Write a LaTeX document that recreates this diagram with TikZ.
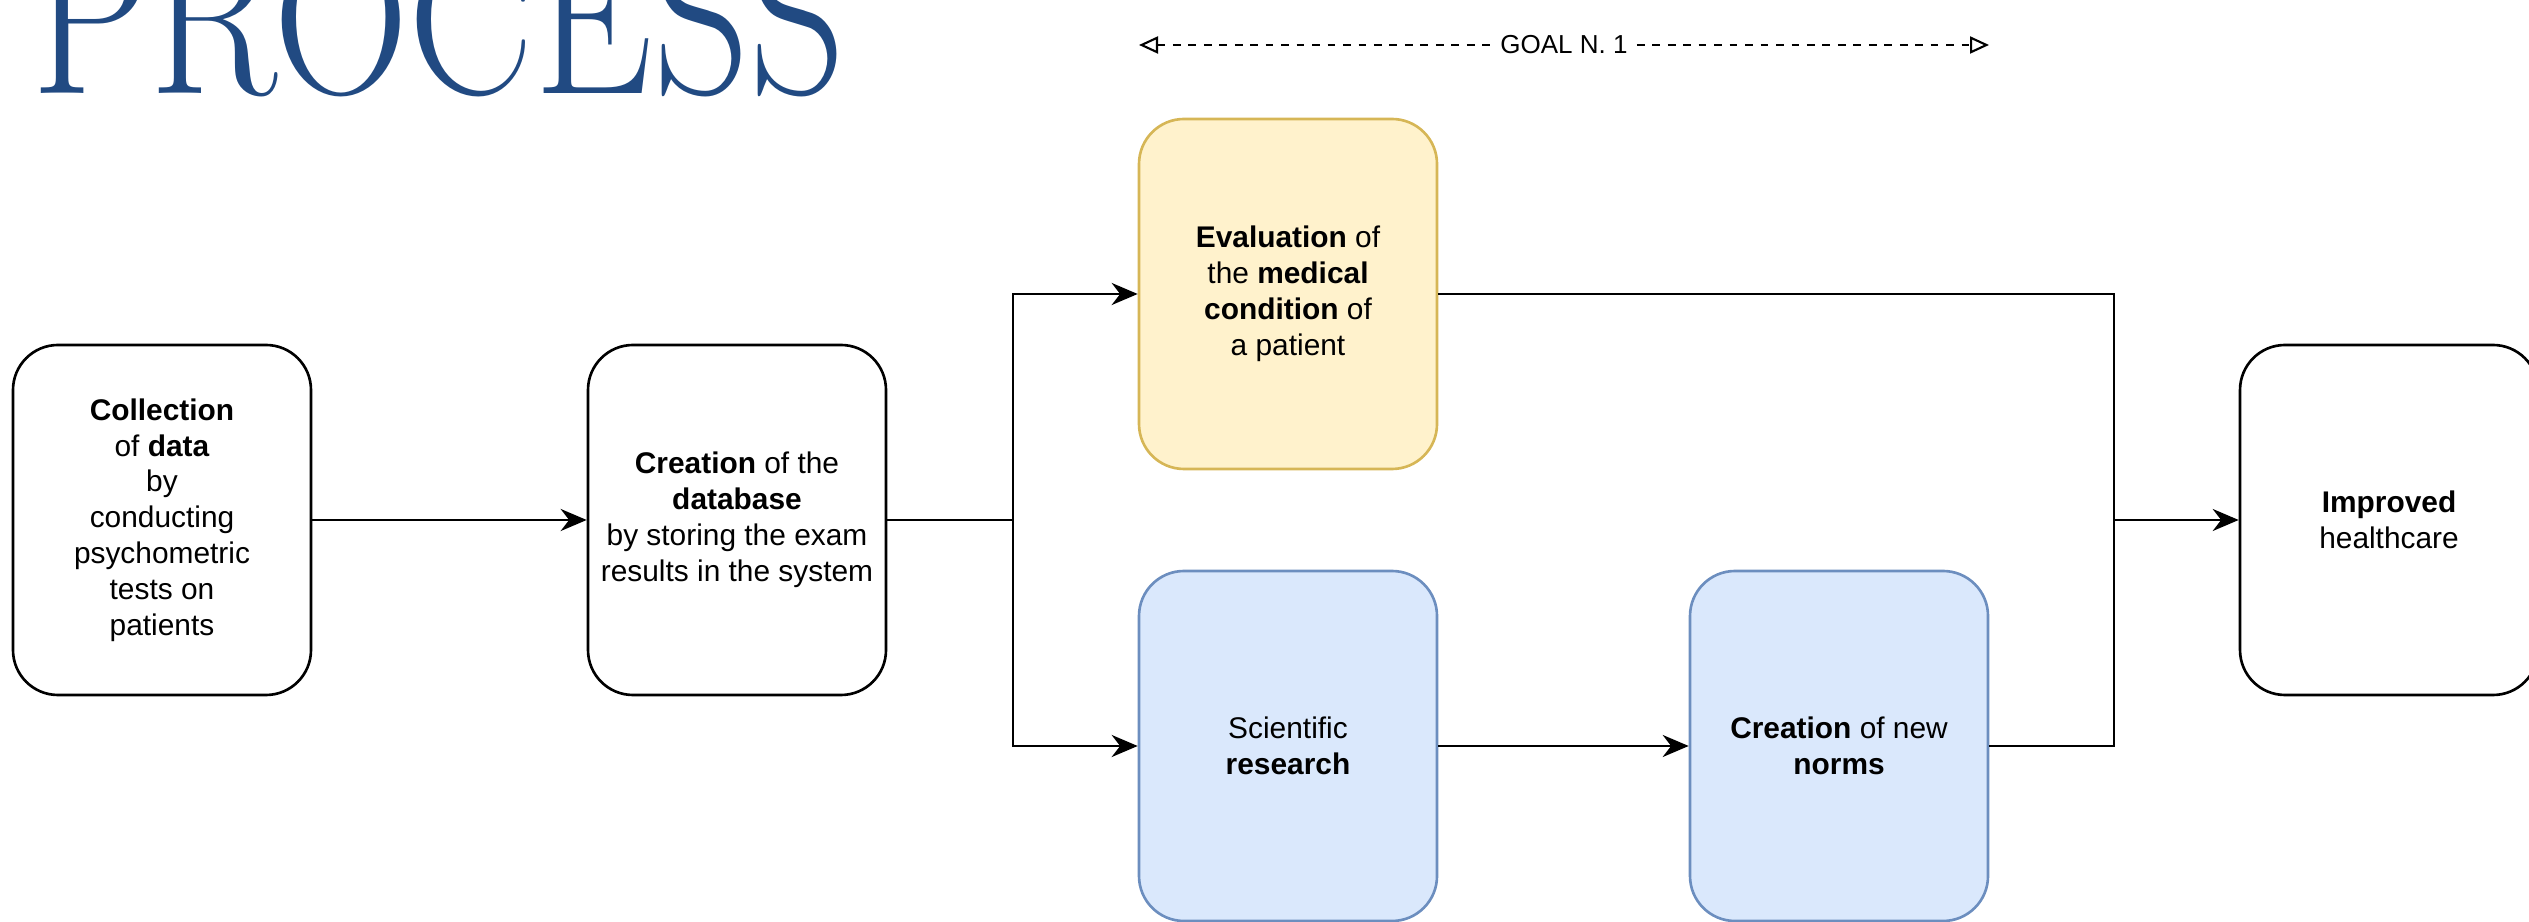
\documentclass[tikz,border=0pt]{standalone}
\usepackage{fontspec}
\usepackage{graphicx}
\newfontfamily\boxfont{Liberation Sans}
\usetikzlibrary{arrows.meta,positioning}

\definecolor{titleblue}{RGB}{33,74,130}
\definecolor{evalfill}{HTML}{FFF2CC}
\definecolor{evaldraw}{HTML}{D6B656}
\definecolor{resfill}{HTML}{DAE8FC}
\definecolor{resdraw}{HTML}{6C8EBF}

\begin{document}
\begin{tikzpicture}[
  >=Stealth, font=\boxfont\fontsize{8.5}{10.2}\selectfont,
  stage/.style={draw, line width=0.75pt, rounded corners=0.45cm, fill=white,
                minimum width=2.98cm, minimum height=3.5cm,
                align=center, inner sep=2pt},
  evalbox/.style={stage, draw=evaldraw, fill=evalfill},
  resbox/.style={stage, draw=resdraw, fill=resfill},
  link/.style={-{Stealth[length=0.26cm, width=0.22cm]}, line width=0.8pt},
  wire/.style={line width=0.8pt},
  goal/.style={{Triangle[open, length=0.19cm, width=0.17cm]}-{Triangle[open, length=0.19cm, width=0.17cm]},
               dash pattern=on 2.2pt off 2.2pt, line width=0.6pt},
]
  %% Page frame (reference proportions)
  \useasboundingbox (0,0) rectangle (25.29,-9.22);

  %% Title
  \node[anchor=base west, inner sep=0pt, text=titleblue,
        font=\rmfamily\fontsize{61.6}{70}\selectfont] (title) at (0.31,-0.94)
    {\scalebox{0.87}[1]{PROCESS}};

  %% Stages
  \node[stage] (collect) at (1.62,-5.20)
    {\textbf{Collection}\\of \textbf{data}\\by\\conducting\\psychometric\\tests on\\patients};
  \node[stage] (database) at (7.37,-5.20)
    {\textbf{Creation} of the\\\textbf{database}\\by storing the exam\\results in the system};
  \node[evalbox] (eval) at (12.88,-2.94)
    {\textbf{Evaluation} of\\the \textbf{medical}\\\textbf{condition} of\\a patient};
  \node[resbox] (research) at (12.88,-7.46)
    {Scientific\\\textbf{research}};
  \node[resbox] (norms) at (18.39,-7.46)
    {\textbf{Creation} of new\\\textbf{norms}};
  \node[stage] (improved) at (23.89,-5.20)
    {\textbf{Improved}\\healthcare};

  %% Branch and merge points
  \coordinate (split) at (10.13,-5.20);
  \coordinate (merge) at (21.14,-5.20);

  %% Connectors
  \draw[link] (collect) -- (database);
  \draw[wire] (database) -- (split);
  \draw[link] (split) |- (eval.west);
  \draw[link] (split) |- (research.west);
  \draw[link] (research) -- (norms);
  \draw[wire] (eval.east) -| (merge);
  \draw[wire] (norms.east) -| (merge);
  \draw[link] (merge) -- (improved);

  %% Goal span
  \coordinate (goalL) at (11.39,-0.45);
  \coordinate (goalR) at (19.89,-0.45);
  \draw[goal] (goalL) -- (goalR)
    node[midway, fill=white, inner sep=1.5pt, font=\boxfont\fontsize{7.4}{8}\selectfont] (goaltxt) {GOAL N. 1};
\end{tikzpicture}
\end{document}
